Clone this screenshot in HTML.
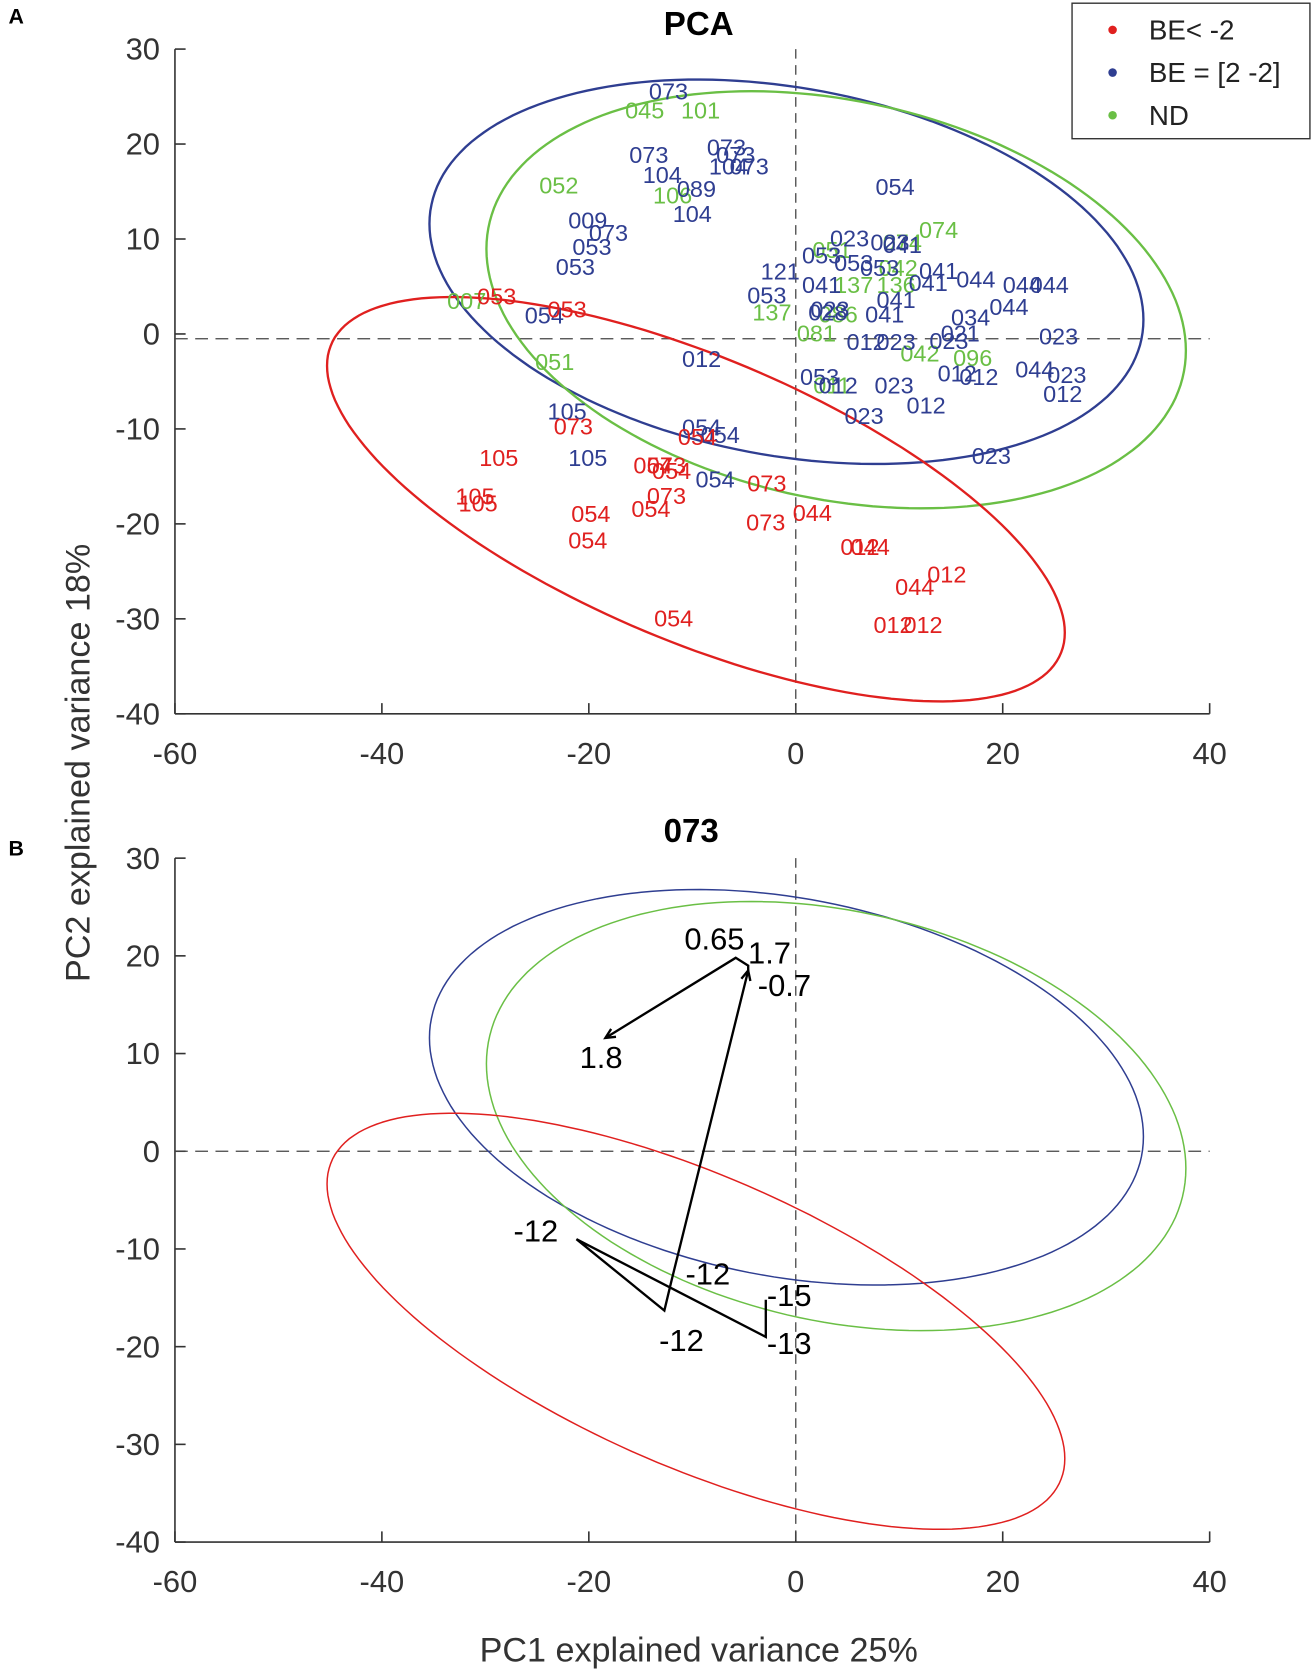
<!DOCTYPE html>
<html><head><meta charset="utf-8"><style>
html,body{margin:0;padding:0;background:#fff;}
svg{display:block;font-family:"Liberation Sans",Arial,sans-serif;}
</style></head><body>
<svg id="fig" width="1311" height="1673" viewBox="0 0 1229 1568" preserveAspectRatio="none" xmlns="http://www.w3.org/2000/svg">
<g id="gA"></g>
<g id="gB"></g>
<text x="8" y="22" font-size="20" font-weight="bold">A</text>
<text x="8" y="802" font-size="20" font-weight="bold">B</text>
<text x="655" y="33" font-size="31" font-weight="bold" text-anchor="middle">PCA</text>
<text x="648" y="789" font-size="31" font-weight="bold" text-anchor="middle">073</text>
<text transform="translate(84,715) rotate(-90)" font-size="32" fill="#333" text-anchor="middle">PC2 explained variance 18%</text>
<text x="655" y="1557" font-size="32" fill="#333" text-anchor="middle">PC1 explained variance 25%</text>
<g>
<rect x="1005" y="3" width="223" height="127" fill="#fff" stroke="#333" stroke-width="1.3"/>
<g><circle cx="1043" cy="28" r="4" fill="#e0201f"/><text x="1077" y="37" font-size="26" fill="#222">BE&lt; -2</text></g>
<g><circle cx="1043" cy="68" r="4" fill="#2f3e91"/><text x="1077" y="77" font-size="26" fill="#222">BE = [2 -2]</text></g>
<g><circle cx="1043" cy="108" r="4" fill="#6abf45"/><text x="1077" y="117" font-size="26" fill="#222">ND</text></g>
</g>
</svg>
<script>
const NS="http://www.w3.org/2000/svg";
const xTicks=[-60,-40,-20,0,20,40];
const yTicks=[30,20,10,0,-10,-20,-30,-40];
const redLabels=["053","053","073","105","105","105","054","054","054","054","073","054","073","054","073","073","044","012","044","012","044","012","012","054"];
const redX=[-28.9,-22.1,-21.5,-28.7,-31.0,-30.7,-19.8,-20.1,-9.5,-13.8,-12.5,-12.0,-12.5,-14.0,-2.8,-2.9,1.6,6.2,7.2,14.6,11.5,9.4,12.3,-11.8];
const redY=[3.9,2.5,-9.8,-13.1,-17.2,-17.9,-19.0,-21.8,-10.9,-13.9,-13.9,-14.5,-17.1,-18.5,-15.8,-19.9,-18.9,-22.5,-22.5,-25.4,-26.7,-30.7,-30.7,-30.0];
const blueLabels=["054","023","023","041","053","053","053","121","041","041","041","044","044","044","053","041","041","023","028","044","034","023","012","023","023","021","012","012","044","023","012","053","012","023","023","012","023","073","073","073","073","104","073","104","089","104","009","073","053","053","054","012","105","105","054","054","054"];
const blueX=[9.6,5.2,9.1,10.3,2.5,5.6,8.1,-1.5,2.5,13.8,12.8,17.4,21.9,24.5,-2.8,9.7,8.6,3.3,3.1,20.6,16.9,25.4,6.8,9.7,14.8,15.9,15.6,17.7,23.1,26.2,25.8,2.3,4.1,9.5,6.6,12.6,18.9,-12.3,-14.2,-6.7,-5.8,-6.5,-4.5,-12.9,-9.6,-10.0,-20.1,-18.1,-19.7,-21.3,-24.3,-9.1,-22.1,-20.1,-9.1,-7.3,-7.8];
const blueY=[15.4,10.0,9.6,9.3,8.2,7.4,6.9,6.5,5.1,6.6,5.3,5.7,5.1,5.1,4.0,3.5,2.0,2.5,2.2,2.8,1.7,-0.3,-0.9,-0.9,-0.8,0,-4.2,-4.6,-3.8,-4.4,-6.4,-4.6,-5.5,-5.5,-8.7,-7.6,-12.9,25.5,18.8,19.6,18.8,17.6,17.6,16.7,15.2,12.6,11.9,10.6,9.1,7.0,1.9,-2.7,-8.2,-13.1,-9.9,-10.7,-15.4];
const greenLabels=["045","101","052","106","074","074","051","042","137","136","137","086","081","042","096","011","051","007"];
const greenX=[-14.6,-9.2,-22.9,-11.9,13.8,10.3,3.5,9.9,5.6,9.7,-2.3,4.1,2.0,12.0,17.1,3.5,-23.3,-31.8];
const greenY=[23.5,23.5,15.6,14.5,10.9,9.6,8.8,6.9,5.1,5.1,2.2,2.0,0,-2.1,-2.6,-5.5,-3.0,3.4];
// ellipses: center, conjugate semi-axes (data units)
const ellBlue=[-0.9,6.55,34.5,-5.05,0,19.6];
const ellGreen=[3.9,3.6,33.8,-5.35,0,21.3];
const ellRed=[-9.65,-17.4,35.65,-14.05,0,16.0];
// panel B trajectory
const trajLabels=["-15","-13","-12","-12","-12","-0.7","1.7","0.65","1.8"];
const trajX=[-2.9,-2.9,-21.2,-12.7,-12.0,-4.6,-4.6,-5.8,-18.4];
const trajY=[-15.2,-19.0,-9.0,-16.3,-13.2,18.5,19.0,19.8,11.6];

const xS=v=>746+v*9.7;
const yA=v=>313-v*8.9;
const yB=v=>1079-v*9.157;

function el(tag,attrs,parent){const e=document.createElementNS(NS,tag);for(const k in attrs)e.setAttribute(k,attrs[k]);parent.appendChild(e);return e;}

function axes(g,yf,pfx){
  const ax=el('g',{},g);
  
  
  el('line',{x1:xS(-60),y1:yf(30),x2:xS(-60),y2:yf(-40),stroke:'#333','stroke-width':1.5},ax);
  el('line',{x1:xS(-60),y1:yf(-40),x2:xS(40),y2:yf(-40),stroke:'#333','stroke-width':1.5},ax);
  xTicks.forEach(t=>{
    el('line',{x1:xS(t),y1:yf(-40),x2:xS(t),y2:yf(-40)-10,stroke:'#333','stroke-width':1.5},ax);
    const tx=el('text',{x:xS(t),y:yf(-40)+47,'font-size':29,fill:'#333','text-anchor':'middle'},ax);
    tx.textContent=t;
    
    
  });
  yTicks.forEach(t=>{
    el('line',{x1:xS(-60),y1:yf(t),x2:xS(-60)+10,y2:yf(t),stroke:'#333','stroke-width':1.5},ax);
    const tx=el('text',{x:xS(-60)-14,y:yf(t)+10,'font-size':29,fill:'#333','text-anchor':'end'},ax);
    tx.textContent=t;
    
    
  });
  el('line',{x1:xS(0),y1:yf(30),x2:xS(0),y2:yf(-40),stroke:'#444','stroke-width':1.2,'stroke-dasharray':'9,6'},ax);
}

function ellipse(g,p,yf,color,w,name){
  let d='';
  for(let i=0;i<=180;i++){const t=i/180*2*Math.PI;
    const x=p[0]+p[2]*Math.cos(t)+p[4]*Math.sin(t);
    const y=p[1]+p[3]*Math.cos(t)+p[5]*Math.sin(t);
    d+=(i?'L':'M')+xS(x).toFixed(1)+','+yf(y).toFixed(1);}
  const e=el('path',{d:d+'Z',fill:'none',stroke:color,'stroke-width':w},g);
  
  
}

function labels(g,L,X,Y,color,name){
  L.forEach((s,i)=>{
    const t=el('text',{x:xS(X[i]),y:yA(Y[i])+7,'font-size':22,fill:color,'text-anchor':'middle'},g);
    t.textContent=s;
    
    
  });
}

const gA=document.getElementById('gA');
axes(gA,yA,'panel-a');
el('line',{x1:xS(-60),y1:yA(-0.5),x2:xS(40),y2:yA(-0.5),stroke:'#444','stroke-width':1.2,'stroke-dasharray':'12,7'},gA);
ellipse(gA,ellBlue,yA,'#2f3e91',2.2,'ellipse-be-mid');
ellipse(gA,ellGreen,yA,'#6abf45',2.2,'ellipse-nd');
ellipse(gA,ellRed,yA,'#e0201f',2.2,'ellipse-be-low');
labels(gA,greenLabels,greenX,greenY,'#6abf45','label-nd');
labels(gA,blueLabels,blueX,blueY,'#2f3e91','label-be-mid');
labels(gA,redLabels,redX,redY,'#e0201f','label-be-low');

const gB=document.getElementById('gB');
axes(gB,yB,'panel-b');
el('line',{x1:xS(-60),y1:yB(0),x2:xS(40),y2:yB(0),stroke:'#444','stroke-width':1.2,'stroke-dasharray':'12,7'},gB);
ellipse(gB,ellBlue,yB,'#2f3e91',1.4,'ellipse-be-mid');
ellipse(gB,ellGreen,yB,'#6abf45',1.4,'ellipse-nd');
ellipse(gB,ellRed,yB,'#e0201f',1.4,'ellipse-be-low');
let dp='';
trajX.forEach((x,i)=>{dp+=(i?'L':'M')+xS(x).toFixed(1)+','+yB(trajY[i]).toFixed(1);});
const tr=el('path',{d:dp,fill:'none',stroke:'#000','stroke-width':2.2,'stroke-linejoin':'miter'},gB);


function arrow(i0,i1){
  const x0=xS(trajX[i0]),y0=yB(trajY[i0]),x1=xS(trajX[i1]),y1=yB(trajY[i1]);
  const a=Math.atan2(y1-y0,x1-x0),L=10,s=0.45;
  const p=[[x1,y1],[x1-L*Math.cos(a-s),y1-L*Math.sin(a-s)],[x1-L*Math.cos(a+s),y1-L*Math.sin(a+s)]];
  const h=el('polyline',{points:[p[1],p[0],p[2]].map(q=>q.join(',')).join(' '),fill:'none',stroke:'#000','stroke-width':2.2},gB);
  
  
}
arrow(4,5);arrow(7,8);
const off=[[22,6],[22,16],[-38,2],[16,38],[34,4],[34,24],[20,-2],[-20,-8],[-4,28]];
trajLabels.forEach((s,i)=>{
  const t=el('text',{x:xS(trajX[i])+off[i][0],y:yB(trajY[i])+off[i][1],'font-size':29,fill:'#000','text-anchor':'middle'},gB);
  t.textContent=s;
  
  
});
</script>
</body></html>
